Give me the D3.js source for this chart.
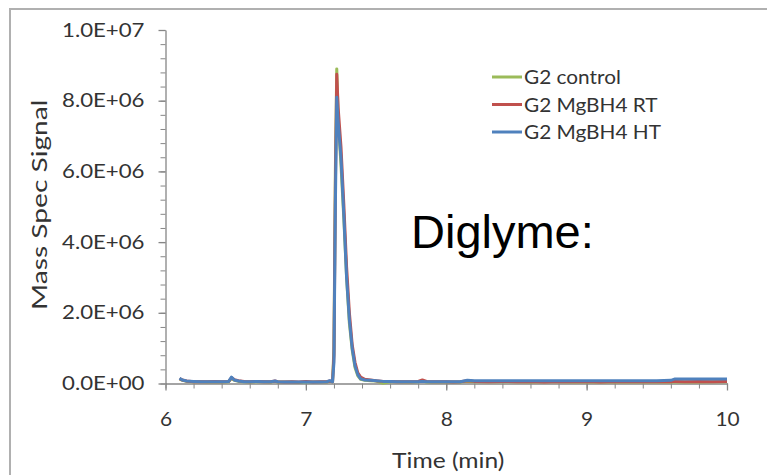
<!DOCTYPE html>
<html>
<head>
<meta charset="utf-8">
<script src="https://cdn.jsdelivr.net/npm/d3@7"></script>
<style>
	body { margin: 0; background: #fff; }
	svg { display: block; }
</style>
</head>
<body>
<svg id="chart" width="767" height="475"></svg>
<script>
// retention time (min), shared by the three traces
var times = [6.10, 6.12, 6.15, 6.20, 6.25, 6.30, 6.35, 6.40, 6.45, 6.47, 6.49, 6.52, 6.56, 6.60,
	6.65, 6.70, 6.75, 6.78, 6.80, 6.85, 6.90, 6.95, 7.00, 7.05, 7.10, 7.15, 7.17, 7.19, 7.20, 7.21,
	7.22, 7.23, 7.25, 7.27, 7.29, 7.31, 7.33, 7.35, 7.37, 7.39, 7.42, 7.46, 7.50, 7.55, 7.60, 7.65,
	7.70, 7.75, 7.80, 7.83, 7.86, 7.90, 7.95, 8.00, 8.05, 8.10, 8.15, 8.20, 8.30, 8.40, 8.50, 8.60,
	8.70, 8.80, 8.90, 9.00, 9.10, 9.20, 9.30, 9.40, 9.50, 9.60, 9.63, 9.70, 9.80, 9.90, 10.00];

var g2Control = [1.3e5, 0.9e5, 0.6e5, 0.5e5, 0.5e5, 0.4e5, 0.5e5, 0.4e5, 0.5e5, 1.5e5, 0.9e5, 0.6e5, 0.5e5, 0.4e5,
	0.5e5, 0.5e5, 0.4e5, 0.6e5, 0.4e5, 0.4e5, 0.4e5, 0.3e5, 0.4e5, 0.4e5, 0.4e5, 0.4e5, 0.6e5, 0.5e5, 1.0e6, 6.0e6,
	8.9e6, 7.5e6, 6.2e6, 4.7e6, 3.0e6, 1.7e6, 0.95e6, 0.45e6, 0.22e6, 0.12e6, 0.09e6, 0.08e6, 0.07e6, 0.05e5, 0.5e5, 0.5e5,
	0.4e5, 0.4e5, 0.5e5, 0.7e5, 0.4e5, 0.4e5, 0.4e5, 0.4e5, 0.4e5, 0.4e5, 0.6e5, 0.5e5, 0.5e5, 0.5e5, 0.5e5, 0.4e5,
	0.5e5, 0.5e5, 0.4e5, 0.5e5, 0.4e5, 0.4e5, 0.5e5, 0.4e5, 0.4e5, 0.4e5, 0.5e5, 0.4e5, 0.4e5, 0.5e5, 0.5e5];

var g2MgRT = [1.4e5, 1.0e5, 0.7e5, 0.5e5, 0.5e5, 0.5e5, 0.6e5, 0.5e5, 0.6e5, 1.6e5, 1.1e5, 0.8e5, 0.6e5, 0.5e5,
	0.6e5, 0.5e5, 0.5e5, 0.7e5, 0.5e5, 0.4e5, 0.5e5, 0.4e5, 0.6e5, 0.4e5, 0.5e5, 0.5e5, 0.7e5, 0.5e5, 0.8e6, 5.5e6,
	8.75e6, 7.8e6, 6.7e6, 5.1e6, 3.3e6, 2.0e6, 1.1e6, 0.6e6, 0.3e6, 0.18e6, 0.12e6, 0.1e6, 0.08e6, 0.06e6, 0.6e5, 0.5e5,
	0.5e5, 0.5e5, 0.6e5, 1.0e5, 0.6e5, 0.5e5, 0.5e5, 0.5e5, 0.4e5, 0.5e5, 0.8e5, 0.6e5, 0.5e5, 0.6e5, 0.5e5, 0.6e5,
	0.4e5, 0.6e5, 0.5e5, 0.6e5, 0.4e5, 0.6e5, 0.5e5, 0.5e5, 0.6e5, 0.5e5, 0.6e5, 0.5e5, 0.6e5, 0.5e5, 0.6e5];

var g2MgHT = [1.5e5, 1.0e5, 0.7e5, 0.6e5, 0.5e5, 0.5e5, 0.5e5, 0.5e5, 0.6e5, 1.8e5, 1.0e5, 0.7e5, 0.5e5, 0.5e5,
	0.6e5, 0.5e5, 0.5e5, 0.7e5, 0.5e5, 0.4e5, 0.4e5, 0.4e5, 0.4e5, 0.4e5, 0.4e5, 0.5e5, 0.8e5, 0.5e5, 0.6e6, 5.0e6,
	8.1e6, 7.4e6, 6.4e6, 4.8e6, 3.0e6, 1.8e6, 1.0e6, 0.5e6, 0.25e6, 0.13e6, 0.1e6, 0.09e6, 0.08e6, 0.06e6, 0.6e5, 0.5e5,
	0.5e5, 0.5e5, 0.5e5, 0.6e5, 0.5e5, 0.5e5, 0.5e5, 0.5e5, 0.5e5, 0.5e5, 0.9e5, 0.8e5, 0.8e5, 0.8e5, 0.8e5, 0.8e5,
	0.8e5, 0.8e5, 0.8e5, 0.8e5, 0.8e5, 0.8e5, 0.8e5, 0.8e5, 0.8e5, 0.9e5, 1.3e5, 1.3e5, 1.3e5, 1.3e5, 1.3e5];

var seriesNames = ["G2 control", "G2 MgBH4 RT", "G2 MgBH4 HT"];
var seriesColors = ["#9bbb59", "#c0504d", "#4f81bd"];
var seriesValues = [g2Control, g2MgRT, g2MgHT];

var xTicks = [6, 7, 8, 9, 10];
var yTicks = [0, 2e6, 4e6, 6e6, 8e6, 1e7];

var svg = d3.select("#chart"),
	margin = {left: 165.5, right: 40, top: 30, bottom: 91.5},
	width = 767 - margin.left - margin.right,
	height = 475 - margin.top - margin.bottom;

var axisColor = "#868686",
	textColor = "#333",
	font = "Lato, 'Open Sans', sans-serif";

// the chart text is a bit wider than the font, stretch it around its anchor
function stretch(sel, k) {
	sel.attr("transform", function() {
		var t = d3.select(this),
			x0 = +t.attr("x") || 0,
			y0 = +t.attr("y") || 0;
		return "translate(" + x0 + "," + y0 + ") scale(" + k + ",1) translate(" + -x0 + "," + -y0 + ")";
	});
}

// outer chart border (runs off the right and bottom edges)
svg.append("rect")
	.attr("x", 10).attr("y", 9)
	.attr("width", 800).attr("height", 500)
	.attr("fill", "none")
	.attr("stroke", "#b0b0b0")
	.attr("stroke-width", 2);

var x = d3.scaleLinear().domain([6, 10]).range([0, width]),
	y = d3.scaleLinear().domain([0, 1e7]).range([height, 0]);

var g = svg.append("g")
	.attr("transform", "translate(" + margin.left + "," + margin.top + ")");

// minor ticks
g.append("g")
	.attr("transform", "translate(0," + height + ")")
	.call(d3.axisBottom(x).tickValues(d3.range(6, 10.001, 0.2)).tickSize(5).tickFormat(""))
	.call(function(a) { a.select(".domain").remove(); })
	.selectAll("line").attr("stroke", axisColor);

g.append("g")
	.call(d3.axisLeft(y).tickValues(d3.range(0, 1e7 + 1, 4e5)).tickSize(5).tickFormat(""))
	.call(function(a) { a.select(".domain").remove(); })
	.selectAll("line").attr("stroke", axisColor);

var xAxis = g.append("g")
	.attr("transform", "translate(0," + height + ")")
	.call(d3.axisBottom(x).tickValues(xTicks).tickSize(7).tickPadding(22).tickSizeOuter(0)
		.tickFormat(d3.format("d")));

var yAxis = g.append("g")
	.call(d3.axisLeft(y).tickValues(yTicks).tickSize(7).tickPadding(14).tickSizeOuter(0)
		.tickFormat(function(d) { return d.toExponential(1).replace("e", "E").replace(/E([+-])(\d)$/, "E$10$2"); }));

[xAxis, yAxis].forEach(function(a) {
	a.select(".domain").attr("stroke", axisColor).attr("stroke-width", 1.3);
	a.selectAll("line").attr("stroke", axisColor).attr("stroke-width", 1.3);
	a.selectAll("text")
		.attr("fill", textColor)
		.style("font-family", font)
		.style("font-size", "19px");
});
yAxis.selectAll("text").call(stretch, 1.17);
xAxis.selectAll("text").call(stretch, 1.1);

var line = d3.line()
	.x(function(d, i) { return x(times[i]); })
	.y(function(d) { return y(d); });

g.selectAll(".trace")
	.data(seriesValues)
	.enter().append("path")
		.attr("class", "trace")
		.attr("d", line)
		.attr("fill", "none")
		.attr("stroke", function(d, i) { return seriesColors[i]; })
		.attr("stroke-width", 3)
		.attr("stroke-linejoin", "round");

// legend
var legend = svg.append("g").selectAll("g")
	.data(seriesNames)
	.enter().append("g")
		.attr("transform", function(d, i) { return "translate(492," + (77 + i * 27.5) + ")"; });

legend.append("line")
	.attr("x1", 0).attr("x2", 30)
	.attr("stroke", function(d, i) { return seriesColors[i]; })
	.attr("stroke-width", 3);

legend.append("text")
	.attr("x", 32)
	.attr("dy", "0.35em")
	.attr("fill", textColor)
	.style("font-family", font)
	.style("font-size", "20px")
	.text(function(d) { return d; })
	.call(stretch, 1.04);

// axis titles
svg.append("text")
	.attr("x", margin.left + width / 2 + 2)
	.attr("y", 468)
	.attr("text-anchor", "middle")
	.attr("fill", textColor)
	.style("font-family", font)
	.style("font-size", "22px")
	.text("Time (min)")
	.call(stretch, 1.12);

svg.append("text")
	.attr("transform", "translate(47," + (margin.top + height / 2 - 2) + ") rotate(-90) scale(1.28,1)")
	.attr("text-anchor", "middle")
	.attr("fill", textColor)
	.style("font-family", font)
	.style("font-size", "22px")
	.text("Mass Spec Signal");

svg.append("text")
	.attr("x", 411)
	.attr("y", 248)
	.attr("fill", "#000")
	.style("font-family", "'Liberation Sans', Arial, sans-serif")
	.style("font-size", "47px")
	.text("Diglyme:");
</script>
</body>
</html>
